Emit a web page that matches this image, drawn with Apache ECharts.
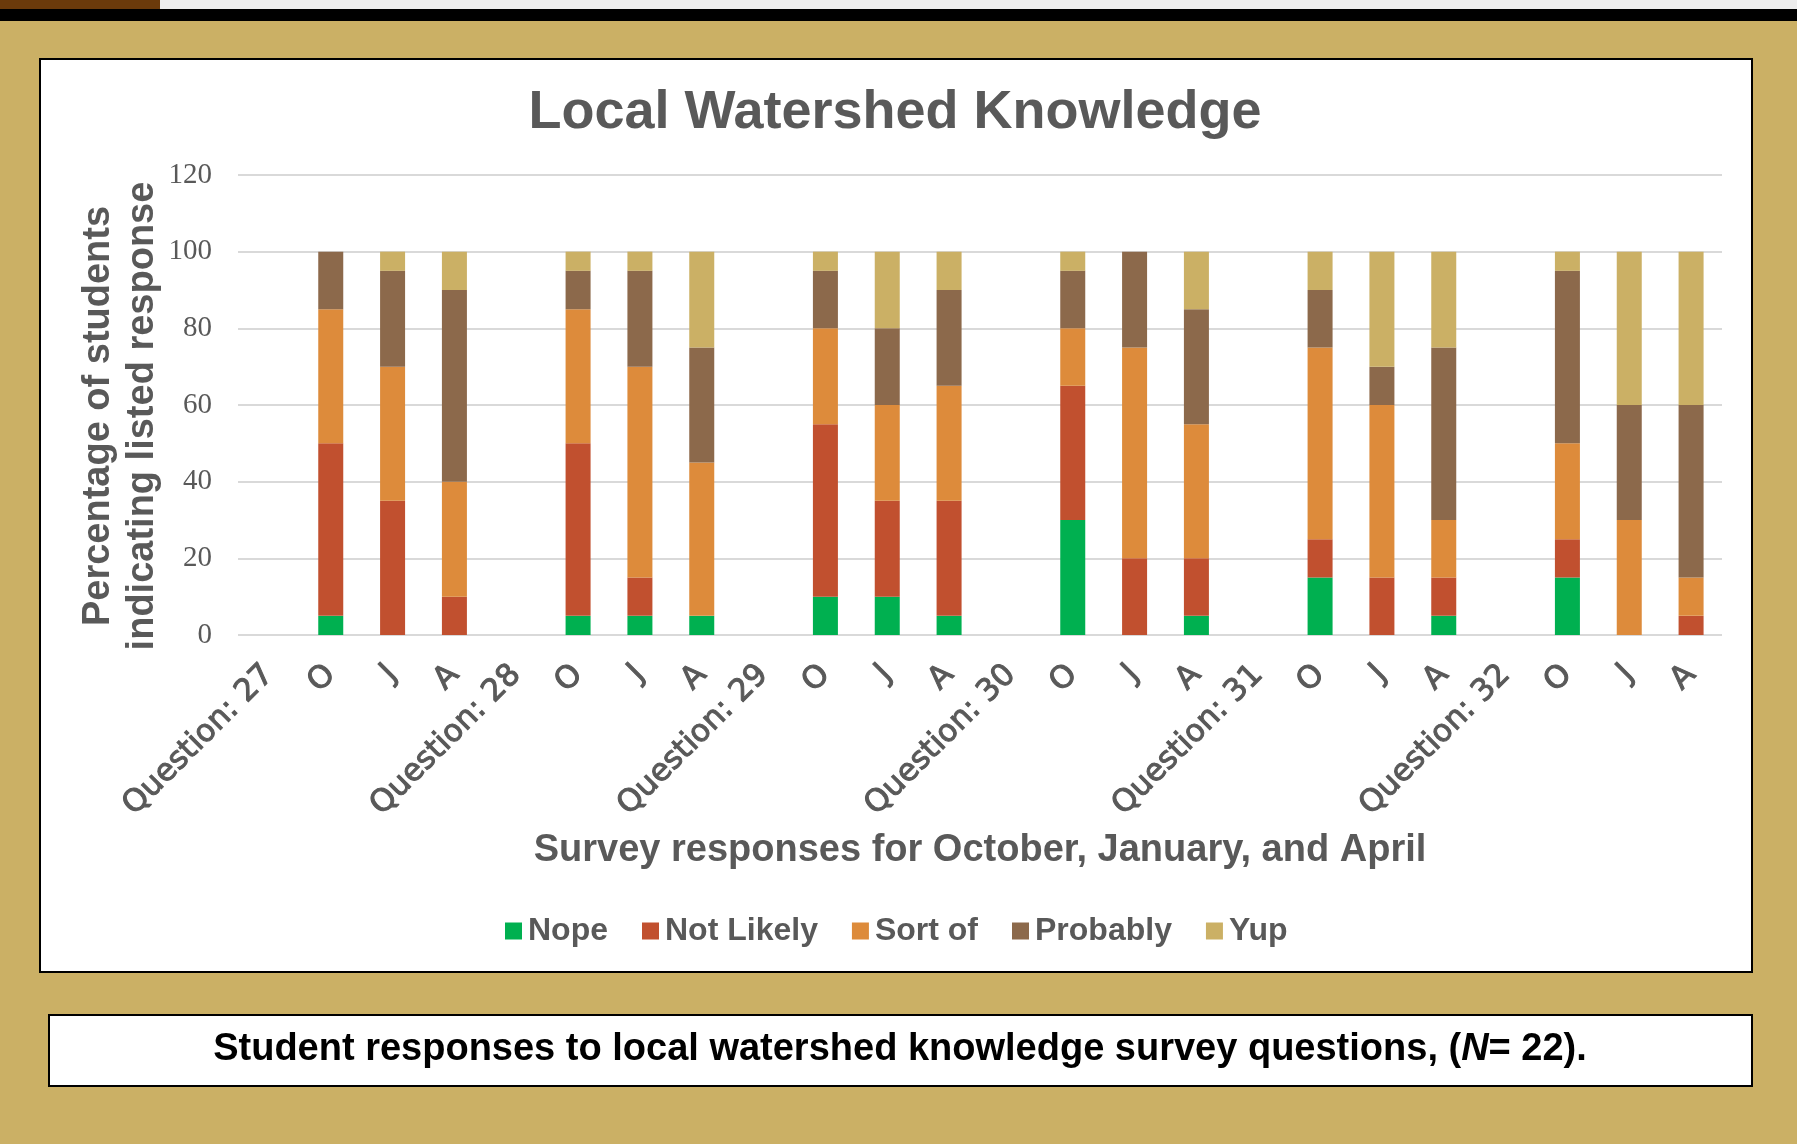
<!DOCTYPE html>
<html>
<head>
<meta charset="utf-8">
<script src="https://cdn.jsdelivr.net/npm/echarts@6/dist/echarts.min.js"></script>
<style>
    html, body { margin: 0; padding: 0; }
    body { width: 1797px; height: 1144px; background: #CBB065; position: relative; overflow: hidden; }
    .strip { position: absolute; left: 0; top: 0; width: 1797px; height: 9px; background: #ededed; }
    .strip-brown { position: absolute; left: 0; top: 0; width: 160px; height: 9px; background: #6B3A0B; }
    .black-bar { position: absolute; left: 0; top: 9px; width: 1797px; height: 12px; background: #000; }
    .box { position: absolute; background: #fff; border: 2px solid #000; box-sizing: border-box; }
    .chart-box { left: 39px; top: 58px; width: 1714px; height: 915px; }
    .caption-box { left: 48px; top: 1014px; width: 1705px; height: 73px; }
    .map { position: absolute; left: 0; top: 0; width: 1797px; height: 1144px; }
</style>
</head>
<body>
<div class="strip"></div>
<div class="strip-brown"></div>
<div class="black-bar"></div>
<div class="box chart-box"></div>
<div class="box caption-box"></div>
<div class="map"></div>
<script>
// questions and survey months (October, January, April)
var questions = [27, 28, 29, 30, 31, 32];
var months = ['O', 'J', 'A'];
var seriesNames = ['Nope', 'Not Likely', 'Sort of', 'Probably', 'Yup'];
var seriesColors = ['#00B050', '#C1502F', '#DD8B3B', '#8C694B', '#CBB065'];

// percentages, ordered Q27 O,J,A, Q28 O,J,A ...
var nope      = [5, 0, 0,   5, 5, 5,    10, 10, 5,   30, 0, 5,    15, 0, 5,    15, 0, 0];
var notLikely = [45, 35, 10, 45, 10, 0,  45, 25, 30,  35, 20, 15,  10, 15, 10,  10, 0, 5];
var sortOf    = [35, 35, 30, 35, 55, 40, 25, 25, 30,  15, 55, 35,  50, 45, 15,  25, 30, 10];
var probably  = [15, 25, 50, 10, 25, 30, 15, 20, 25,  15, 25, 30,  15, 10, 45,  45, 30, 45];
var yup       = [0, 5, 10,  5, 5, 25,   5, 20, 10,   5, 0, 15,    10, 30, 25,  5, 40, 40];

var yTicks = [0, 20, 40, 60, 80, 100, 120];

(function () {
    var myChart = echarts.init(document.querySelector('.map'));

    // each question gets its own empty category, followed by O, J, A
    var categories = [];
    questions.forEach(function (q) {
        categories.push('Question: ' + q);
        months.forEach(function (m) { categories.push(m); });
    });

    function spread(values) {
        var out = [];
        questions.forEach(function (q, i) {
            out.push(null);
            for (var k = 0; k < months.length; k++) {
                out.push(values[i * months.length + k]);
            }
        });
        return out;
    }

    var allValues = [nope, notLikely, sortOf, probably, yup];
    var series = seriesNames.map(function (name, i) {
        return {
            name: name,
            type: 'bar',
            stack: 'total',
            barWidth: 25,
            itemStyle: { color: seriesColors[i] },
            data: spread(allValues[i])
        };
    });

    var option = {
        animation: false,
        color: seriesColors,
        grid: { left: 238, right: 75, top: 175, bottom: 509 },
        legend: {
            left: 500,
            top: 910,
            itemWidth: 17,
            itemHeight: 17,
            itemGap: 34,
            icon: 'rect',
            textStyle: {
                fontFamily: 'Liberation Sans',
                fontWeight: 'bold',
                fontSize: 32,
                color: '#595959',
                padding: [0, 0, 0, 1]
            },
            data: seriesNames
        },
        xAxis: {
            type: 'category',
            data: categories,
            axisLine: { show: false },
            axisTick: { show: false },
            axisLabel: {
                interval: 0,
                rotate: 45,
                margin: 35,
                fontFamily: 'DejaVu Sans',
                fontSize: 31,
                color: '#595959',
                textBorderColor: '#595959',
                textBorderWidth: 1
            }
        },
        yAxis: {
            type: 'value',
            min: yTicks[0],
            max: yTicks[yTicks.length - 1],
            interval: 20,
            axisLine: { show: false },
            axisTick: { show: false },
            axisLabel: {
                margin: 26,
                fontFamily: 'Liberation Serif',
                fontSize: 29,
                color: '#595959'
            },
            splitLine: { lineStyle: { color: '#D9D9D9', width: 2 } }
        },
        graphic: [
            {
                type: 'text', x: 895, y: 113,
                style: {
                    text: 'Local Watershed Knowledge',
                    font: 'bold 54px "Liberation Sans"',
                    fill: '#595959', align: 'center', verticalAlign: 'middle'
                }
            },
            {
                type: 'text', x: 121, y: 416, rotation: Math.PI / 2,
                style: {
                    text: 'Percentage of students\nindicating listed response',
                    font: 'bold 38px "Liberation Sans"', lineHeight: 44,
                    fill: '#595959', align: 'center', verticalAlign: 'middle'
                }
            },
            {
                type: 'text', x: 980, y: 851,
                style: {
                    text: 'Survey responses for October, January, and April',
                    font: 'bold 38px "Liberation Sans"',
                    fill: '#595959', align: 'center', verticalAlign: 'middle'
                }
            },
            {
                type: 'text', x: 900, y: 1050,
                style: {
                    text: 'Student responses to local watershed knowledge survey questions, ({i|N}= 22).',
                    font: 'bold 38px "Liberation Sans"',
                    fill: '#000', align: 'center', verticalAlign: 'middle',
                    rich: {
                        i: { font: 'italic bold 38px "Liberation Sans"', fill: '#000' }
                    }
                }
            }
        ],
        series: series
    };

    myChart.setOption(option);

    window.addEventListener('resize', function () {
        myChart.resize();
    });
})();
</script>
</body>
</html>
